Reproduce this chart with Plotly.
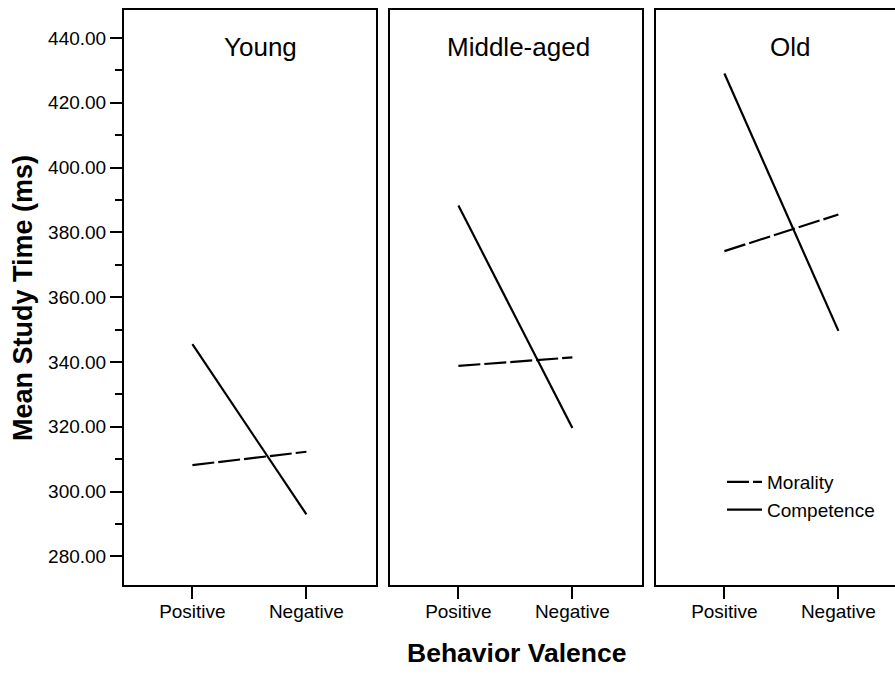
import plotly.graph_objects as go

groups = ["Young", "Middle-aged", "Old"]
valence = ["Positive", "Negative"]
morality = {"Young": [308.2, 312.3], "Middle-aged": [338.8, 341.4], "Old": [374.2, 385.5]}
competence = {"Young": [345.5, 293.0], "Middle-aged": [388.3, 319.6], "Old": [429.0, 349.6]}
y_ticks = [280, 300, 320, 340, 360, 380, 400, 420, 440]

W, H = 895, 675
FONT = "Liberation Sans, Arial, sans-serif"

fig = go.Figure()

panels_px = [(124, 376), (390, 642), (656, 895)]
y_dom = [1 - 585 / H, 1 - 10 / H]
xpos = [0, 1]

for i, g in enumerate(groups):
    ax = "" if i == 0 else str(i + 1)
    show = (i == 2)
    fig.add_trace(go.Scatter(x=xpos, y=morality[g], mode="lines", name="Morality",
                             line=dict(color="black", width=2.2, dash="22px,4px"),
                             xaxis="x" + ax, yaxis="y" + ax, showlegend=show, legendrank=1))
    fig.add_trace(go.Scatter(x=xpos, y=competence[g], mode="lines", name="Competence",
                             line=dict(color="black", width=2.2),
                             xaxis="x" + ax, yaxis="y" + ax, showlegend=show, legendrank=2))

layout = dict(width=W, height=H, margin=dict(l=0, r=0, t=0, b=0),
              paper_bgcolor="white", plot_bgcolor="white",
              font=dict(family=FONT, color="black"))

for i, (x0, x1) in enumerate(panels_px):
    k = "" if i == 0 else str(i + 1)
    rng_hi = -0.6 + (x1 - x0) / 114.0
    layout["xaxis" + k] = dict(
        domain=[x0 / W, x1 / W], range=[-0.6, rng_hi],
        anchor="y" + k, showgrid=False, zeroline=False,
        showline=True, linecolor="black", linewidth=2, mirror=True,
        ticks="outside", ticklen=12, tickwidth=2, tickcolor="black",
        tickvals=xpos, ticktext=valence, ticklabelstandoff=-4,
        tickfont=dict(size=19, family=FONT, color="black"),
    )
    yax = dict(
        domain=y_dom, range=[271.2, 448.6], anchor="x" + k,
        showgrid=False, zeroline=False, showline=True, linecolor="black", linewidth=2,
        mirror=(i < 2),
    )
    if i == 0:
        yax.update(ticks="outside", ticklen=12, tickwidth=2, tickcolor="black",
                   tickvals=y_ticks, tickformat=".2f",
                   tickfont=dict(size=19, family=FONT, color="black"),
                   minor=dict(dtick=10, tick0=270, ticks="outside", ticklen=7,
                              tickwidth=2, tickcolor="black"))
    else:
        yax.update(showticklabels=False, ticks="")
    layout["yaxis" + k] = yax

fig.update_layout(**layout)

title_x = [260, 518, 790]
for g, tx in zip(groups, title_x):
    fig.add_annotation(text=g, x=tx / W, y=1 - 47 / H, xref="paper", yref="paper",
                       xanchor="center", yanchor="middle", showarrow=False,
                       font=dict(size=26, family=FONT, color="black"))

fig.add_annotation(text="<b>Mean Study Time (ms)</b>", x=23 / W, y=1 - 298 / H,
                   xref="paper", yref="paper", textangle=-90, showarrow=False,
                   xanchor="center", yanchor="middle",
                   font=dict(size=27, family=FONT, color="black"))
fig.add_annotation(text="<b>Behavior Valence</b>", x=516 / W, y=1 - 653 / H,
                   xref="paper", yref="paper", showarrow=False,
                   xanchor="center", yanchor="middle",
                   font=dict(size=26.5, family=FONT, color="black"))

fig.update_layout(legend=dict(x=722 / W, y=1 - 463 / H, xanchor="left", yanchor="top",
                              bgcolor="rgba(0,0,0,0)", borderwidth=0,
                              font=dict(size=19, family=FONT, color="black"),
                              tracegroupgap=0, itemwidth=35))

fig.write_html("out.html", config={"displayModeBar": False},
               post_script="document.body.style.margin='0';document.body.style.padding='0';document.body.style.overflow='hidden';")
